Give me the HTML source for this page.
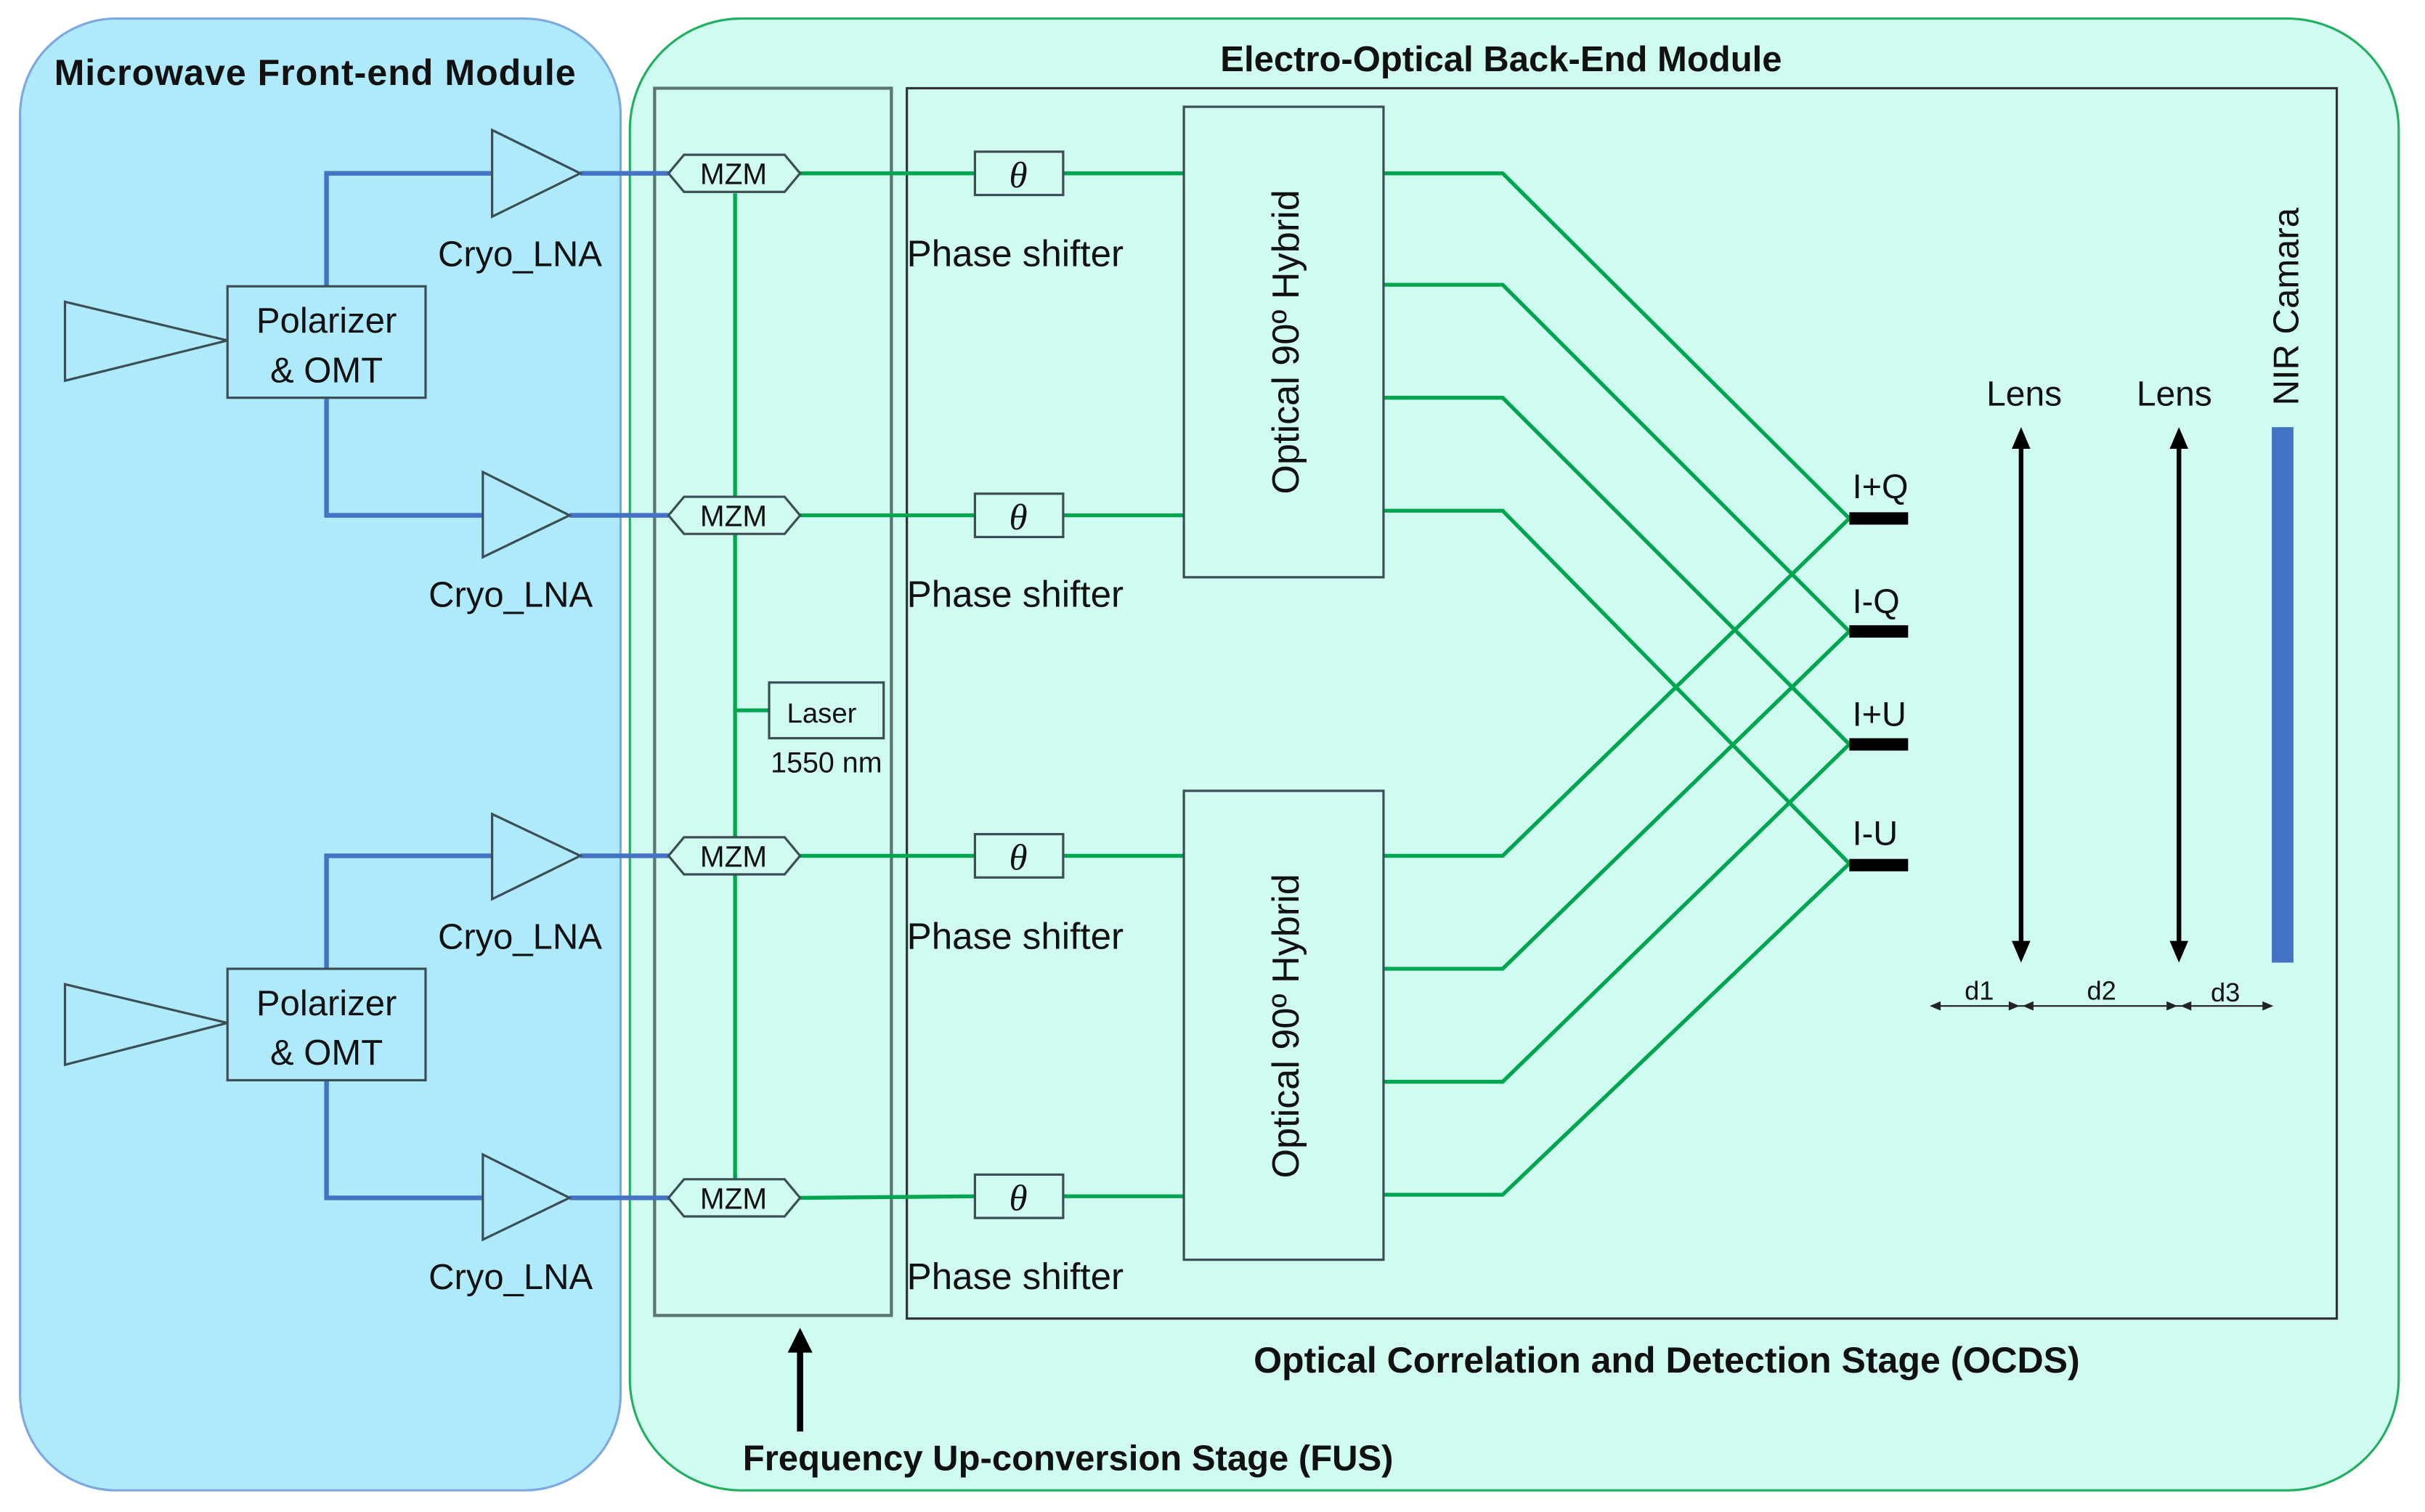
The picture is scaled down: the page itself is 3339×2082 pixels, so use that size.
<!DOCTYPE html>
<html><head><meta charset="utf-8"><style>
html,body{margin:0;padding:0;background:#fff;}
svg{display:block;}
text{font-family:"Liberation Sans",sans-serif;fill:#111;}
</style></head><body>
<svg width="3339" height="2082" viewBox="0 0 1567 977" preserveAspectRatio="none" xmlns="http://www.w3.org/2000/svg">
<rect width="1567" height="977" fill="#fff"/>
<rect x="13" y="12" width="388" height="951" rx="62" fill="#aeeafc" stroke="#7fa8e0" stroke-width="1.5"/>
<rect x="407" y="12" width="1143" height="951" rx="72" fill="#cffbf0" stroke="#22b060" stroke-width="1.5"/>
<text x="35" y="55" font-size="23.5" font-weight="bold" textLength="337">Microwave Front-end Module</text>
<text x="970" y="46" font-size="23" font-weight="bold" text-anchor="middle">Electro-Optical Back-End Module</text>
<rect x="423" y="57" width="153" height="793" fill="none" stroke="#5d7570" stroke-width="2"/>
<rect x="586" y="57" width="924" height="795" fill="none" stroke="#333" stroke-width="1.5"/>
<g fill="none" stroke="#4472c4" stroke-width="3">
<polyline points="211,185 211,112 318,112"/><polyline points="211,257 211,333 312,333"/>
<polyline points="211,626 211,553 318,553"/><polyline points="211,698 211,774 312,774"/>
<line x1="375" y1="112" x2="432" y2="112"/><line x1="368" y1="333" x2="432" y2="333"/>
<line x1="375" y1="553" x2="432" y2="553"/><line x1="368" y1="774" x2="432" y2="774"/>
</g>
<g fill="none" stroke="#3b4e55" stroke-width="1.5">
<polygon points="318,84 318,140 375,112"/><polygon points="312,305 312,360 368,333"/>
<polygon points="318,526 318,581 375,553"/><polygon points="312,746 312,801 368,774"/>
<polygon points="42,195 42,246 147,220"/><polygon points="42,636 42,688 147,661"/>
<rect x="147" y="185" width="128" height="72"/><rect x="147" y="626" width="128" height="72"/>
</g>
<g font-size="23" text-anchor="middle">
<text x="211" y="215">Polarizer</text><text x="211" y="247">&amp; OMT</text>
<text x="211" y="656">Polarizer</text><text x="211" y="688">&amp; OMT</text>
<text x="336" y="172">Cryo_LNA</text><text x="330" y="392">Cryo_LNA</text>
<text x="336" y="613">Cryo_LNA</text><text x="330" y="833">Cryo_LNA</text>
</g>
<g fill="none" stroke="#00a550" stroke-width="2.5">
<line x1="475" y1="125" x2="475" y2="762"/><line x1="475" y1="459" x2="497" y2="459"/>
<line x1="517" y1="112" x2="630" y2="112"/><line x1="687" y1="112" x2="765" y2="112"/>
<line x1="517" y1="333" x2="630" y2="333"/><line x1="687" y1="333" x2="765" y2="333"/>
<line x1="517" y1="553" x2="630" y2="553"/><line x1="687" y1="553" x2="765" y2="553"/>
<line x1="517" y1="774" x2="630" y2="773"/><line x1="687" y1="773" x2="765" y2="773"/>
<polyline points="894,112 971,112 1195,335"/><polyline points="894,184 971,184 1195,408"/>
<polyline points="894,257 971,257 1195,481"/><polyline points="894,330 971,330 1195,558"/>
<polyline points="894,553 971,553 1195,335"/><polyline points="894,626 971,626 1195,408"/>
<polyline points="894,699 971,699 1195,481"/><polyline points="894,772 971,772 1195,558"/>
</g>
<g fill="#cffbf0" stroke="#3b4e55" stroke-width="1.5">
<polygon points="432,112 442,100 507,100 517,112 507,124 442,124"/>
<polygon points="432,333 442,321 507,321 517,333 507,345 442,345"/>
<polygon points="432,553 442,541 507,541 517,553 507,565 442,565"/>
<polygon points="432,774 442,762 507,762 517,774 507,786 442,786"/>
<rect x="497" y="441" width="74" height="36"/>
<rect x="630" y="98" width="57" height="28"/><rect x="630" y="319" width="57" height="28"/>
<rect x="630" y="539" width="57" height="28"/><rect x="630" y="759" width="57" height="28"/>
<rect x="765" y="69" width="129" height="304"/><rect x="765" y="511" width="129" height="303"/>
</g>
<g font-size="19" text-anchor="middle">
<text x="474" y="119">MZM</text><text x="474" y="340">MZM</text><text x="474" y="560">MZM</text><text x="474" y="781">MZM</text>
<text x="531" y="467" font-size="18">Laser</text><text x="534" y="499" font-size="18.5">1550 nm</text>
</g>
<g font-size="24" font-style="italic" text-anchor="middle">
<text x="658" y="121" style="font-family:'Liberation Serif',serif">θ</text><text x="658" y="342" style="font-family:'Liberation Serif',serif">θ</text>
<text x="658" y="562" style="font-family:'Liberation Serif',serif">θ</text><text x="658" y="782" style="font-family:'Liberation Serif',serif">θ</text>
</g>
<g font-size="24">
<text x="586" y="172">Phase shifter</text><text x="586" y="392">Phase shifter</text>
<text x="586" y="613">Phase shifter</text><text x="586" y="833">Phase shifter</text>
</g>
<text transform="translate(839,221) rotate(-90)" font-size="24.5" text-anchor="middle">Optical 90º Hybrid</text>
<text transform="translate(839,663) rotate(-90)" font-size="24.5" text-anchor="middle">Optical 90º Hybrid</text>
<g fill="#000"><rect x="1195" y="331" width="38" height="8"/><rect x="1195" y="404" width="38" height="8"/>
<rect x="1195" y="477" width="38" height="8"/><rect x="1195" y="555" width="38" height="8"/></g>
<g font-size="22"><text x="1197" y="322">I+Q</text><text x="1197" y="396">I-Q</text><text x="1197" y="469">I+U</text><text x="1197" y="546">I-U</text></g>
<g font-size="22.5" text-anchor="middle"><text x="1308" y="262">Lens</text><text x="1405" y="262">Lens</text></g>
<g stroke="#000" stroke-width="3"><line x1="1306" y1="288" x2="1306" y2="610"/><line x1="1408" y1="288" x2="1408" y2="610"/></g>
<g fill="#000"><polygon points="1300,290 1306,276 1312,290"/><polygon points="1300,608 1306,622 1312,608"/>
<polygon points="1402,290 1408,276 1414,290"/><polygon points="1402,608 1408,622 1414,608"/></g>
<rect x="1468" y="276" width="14" height="346" fill="#4472c4"/>
<text transform="translate(1485,262) rotate(-90)" font-size="23">NIR Camara</text>
<line x1="1248" y1="650" x2="1468" y2="650" stroke="#222" stroke-width="1"/>
<g fill="#222"><polygon points="1247,650 1254,647 1254,653"/><polygon points="1305,650 1298,647 1298,653"/>
<polygon points="1307,650 1314,647 1314,653"/><polygon points="1407,650 1400,647 1400,653"/>
<polygon points="1409,650 1416,647 1416,653"/><polygon points="1469,650 1462,647 1462,653"/></g>
<g font-size="17" text-anchor="middle"><text x="1279" y="646">d1</text><text x="1358" y="646">d2</text><text x="1438" y="647">d3</text></g>
<text x="1077" y="887" font-size="23.5" font-weight="bold" text-anchor="middle">Optical Correlation and Detection Stage (OCDS)</text>
<text x="480" y="950" font-size="23" font-weight="bold">Frequency Up-conversion Stage (FUS)</text>
<line x1="517" y1="925" x2="517" y2="872" stroke="#000" stroke-width="4"/>
<polygon points="509,874 517,858 525,874" fill="#000"/>
</svg>
</body></html>
